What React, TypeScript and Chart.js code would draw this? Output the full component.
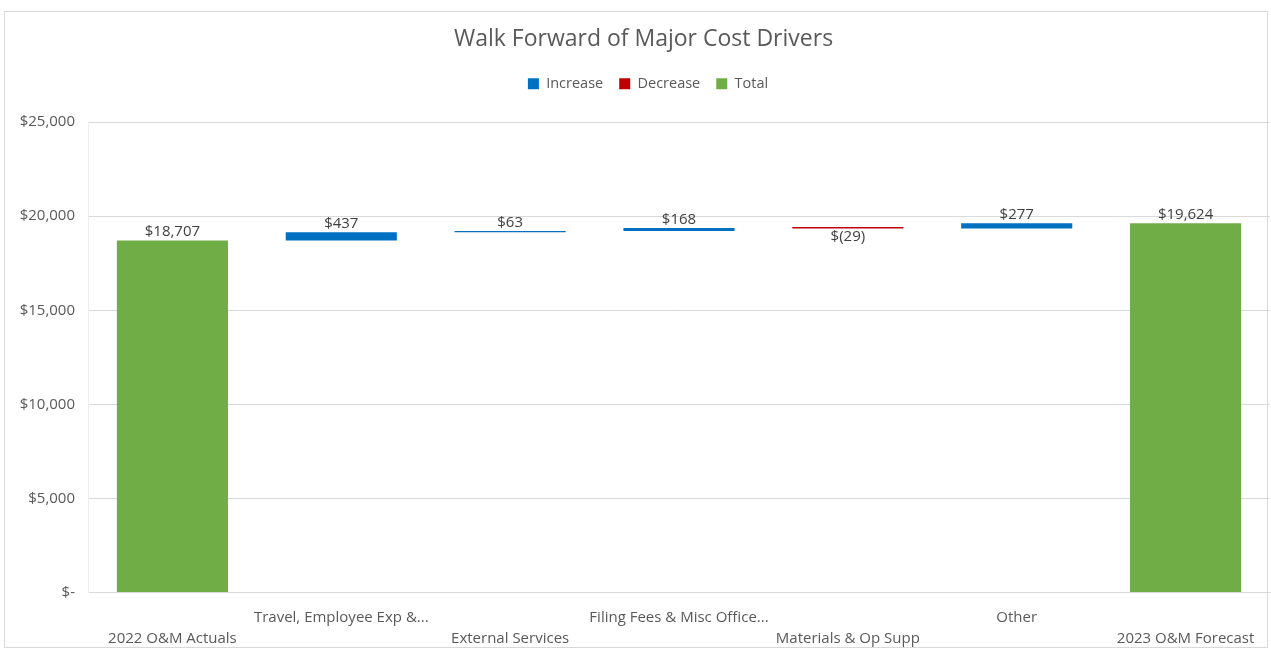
import React, { useEffect, useRef } from "react";
import { Chart, registerables } from "chart.js";

Chart.register(...registerables);

// Walk-forward categories (labels on the x axis)
const categories = [
  "2022 O&M Actuals",
  "Travel, Employee Exp &...",
  "External Services",
  "Filing Fees & Misc Office...",
  "Materials & Op Supp",
  "Other",
  "2023 O&M Forecast",
];

// Amount for each step ($ thousands); totals are absolute, drivers are deltas
const amounts = [18707, 437, 63, 168, -29, 277, 19624];
const kinds = ["total", "change", "change", "change", "change", "change", "total"];

const yTicks = [0, 5000, 10000, 15000, 20000, 25000];

const COLORS = {
  increase: "#0070C0",
  decrease: "#C00000",
  total: "#70AD47",
};

const FONT = "'Open Sans', 'Noto Sans', sans-serif";

function formatMoney(v: number): string {
  if (v === 0) return "$-";
  if (v < 0) return "$(" + Math.abs(v).toLocaleString("en-US") + ")";
  return "$" + v.toLocaleString("en-US");
}

// Build floating [start, end] ranges from the running total
function buildRanges() {
  const inc: ([number, number] | null)[] = [];
  const dec: ([number, number] | null)[] = [];
  const tot: ([number, number] | null)[] = [];
  let run = 0;
  amounts.forEach((v, i) => {
    if (kinds[i] === "total") {
      tot.push([0, v]);
      inc.push(null);
      dec.push(null);
      run = v;
    } else {
      const range: [number, number] = [run, run + v];
      run += v;
      tot.push(null);
      if (v >= 0) {
        inc.push(range);
        dec.push(null);
      } else {
        dec.push(range);
        inc.push(null);
      }
    }
  });
  return { inc, dec, tot };
}

// Staggered two-row category labels
const staggeredLabels = categories.map((c, i) => (i % 2 === 0 ? ["", c] : [c, ""]));

// Value labels above rising bars, below falling ones
const valueLabels = {
  id: "valueLabels",
  afterDatasetsDraw(chart: any) {
    const ctx = chart.ctx;
    ctx.save();
    ctx.font = `15px ${FONT}`;
    ctx.fillStyle = "#404040";
    ctx.textAlign = "center";
    chart.data.datasets.forEach((ds: any, di: number) => {
      const meta = chart.getDatasetMeta(di);
      meta.data.forEach((el: any, i: number) => {
        if (ds.data[i] == null) return;
        const v = amounts[i];
        const top = Math.min(el.y, el.base);
        const bottom = Math.max(el.y, el.base);
        if (v < 0) {
          ctx.textBaseline = "top";
          ctx.fillText(formatMoney(v), el.x, bottom + 1);
        } else {
          ctx.textBaseline = "bottom";
          ctx.fillText(formatMoney(v), el.x, top - 1);
        }
      });
    });
    ctx.restore();
  },
};

// Extra gap under the legend, and title/legend centred a little right of the canvas middle
const headerLayout = {
  id: "headerLayout",
  beforeInit(chart: any) {
    const legend = chart.legend;
    if (!legend) return;
    const origFit = legend.fit;
    legend.fit = function () {
      origFit.call(this);
      this.height += 21;
    };
  },
  afterLayout(chart: any) {
    if (chart.titleBlock) chart.titleBlock.left += 17;
    if (chart.legend) chart.legend.left += 26;
  },
};

export default function App() {
  const canvasRef = useRef<HTMLCanvasElement | null>(null);

  useEffect(() => {
    if (!canvasRef.current) return;
    const { inc, dec, tot } = buildRanges();
    const common = {
      grouped: false,
      categoryPercentage: 1,
      barPercentage: 0.658,
      borderSkipped: false,
    };
    const chart = new Chart(canvasRef.current, {
      type: "bar",
      data: {
        labels: staggeredLabels as any,
        datasets: [
          { label: "Increase", data: inc as any, backgroundColor: COLORS.increase, ...common },
          {
            label: "Decrease",
            data: dec as any,
            backgroundColor: COLORS.decrease,
            minBarLength: 1.5,
            ...common,
          },
          { label: "Total", data: tot as any, backgroundColor: COLORS.total, ...common },
        ],
      },
      options: {
        animation: false,
        responsive: false,
        maintainAspectRatio: false,
        layout: { padding: { top: 0, left: 0, right: 1, bottom: -4 } },
        plugins: {
          title: {
            display: true,
            text: "Walk Forward of Major Cost Drivers",
            color: "#595959",
            font: { family: FONT, size: 23, weight: "normal" },
            padding: { top: 26, bottom: 7 },
          },
          legend: {
            display: true,
            position: "top",
            labels: {
              color: "#595959",
              font: { family: FONT, size: 14.5 },
              boxWidth: 11,
              boxHeight: 11,
              padding: 16,
            },
          },
          tooltip: { enabled: false },
        },
        scales: {
          x: {
            grid: { display: false },
            border: { display: true, color: "#d9d9d9" },
            ticks: {
              color: "#595959",
              font: { family: FONT, size: 15, lineHeight: 1.45 },
              maxRotation: 0,
              minRotation: 0,
              autoSkip: false,
              padding: 6,
            },
          },
          y: {
            min: 0,
            max: 25000,
            afterBuildTicks(scale: any) {
              scale.ticks = yTicks.map((v) => ({ value: v }));
            },
            afterFit(scale: any) {
              scale.width = 88;
            },
            grid: { color: "#d9d9d9", drawTicks: false },
            border: { display: true, color: "#eeeeee" },
            ticks: {
              color: "#595959",
              font: { family: FONT, size: 15 },
              padding: 13,
              callback: (v: any) => formatMoney(Number(v)),
            },
          },
        },
      },
      plugins: [valueLabels, headerLayout],
    });
    return () => chart.destroy();
  }, []);

  return (
    <div style={{ position: "fixed", left: 0, top: 0, width: 1271, height: 652, background: "#fff" }}>
      <div
        style={{
          position: "absolute",
          left: 4,
          top: 11,
          width: 1264,
          height: 637,
          border: "1px solid #d9d9d9",
          boxSizing: "border-box",
        }}
      />
      <canvas
        ref={canvasRef}
        width={1271}
        height={652}
        style={{ position: "absolute", left: 0, top: 0, display: "block" }}
      />
    </div>
  );
}
